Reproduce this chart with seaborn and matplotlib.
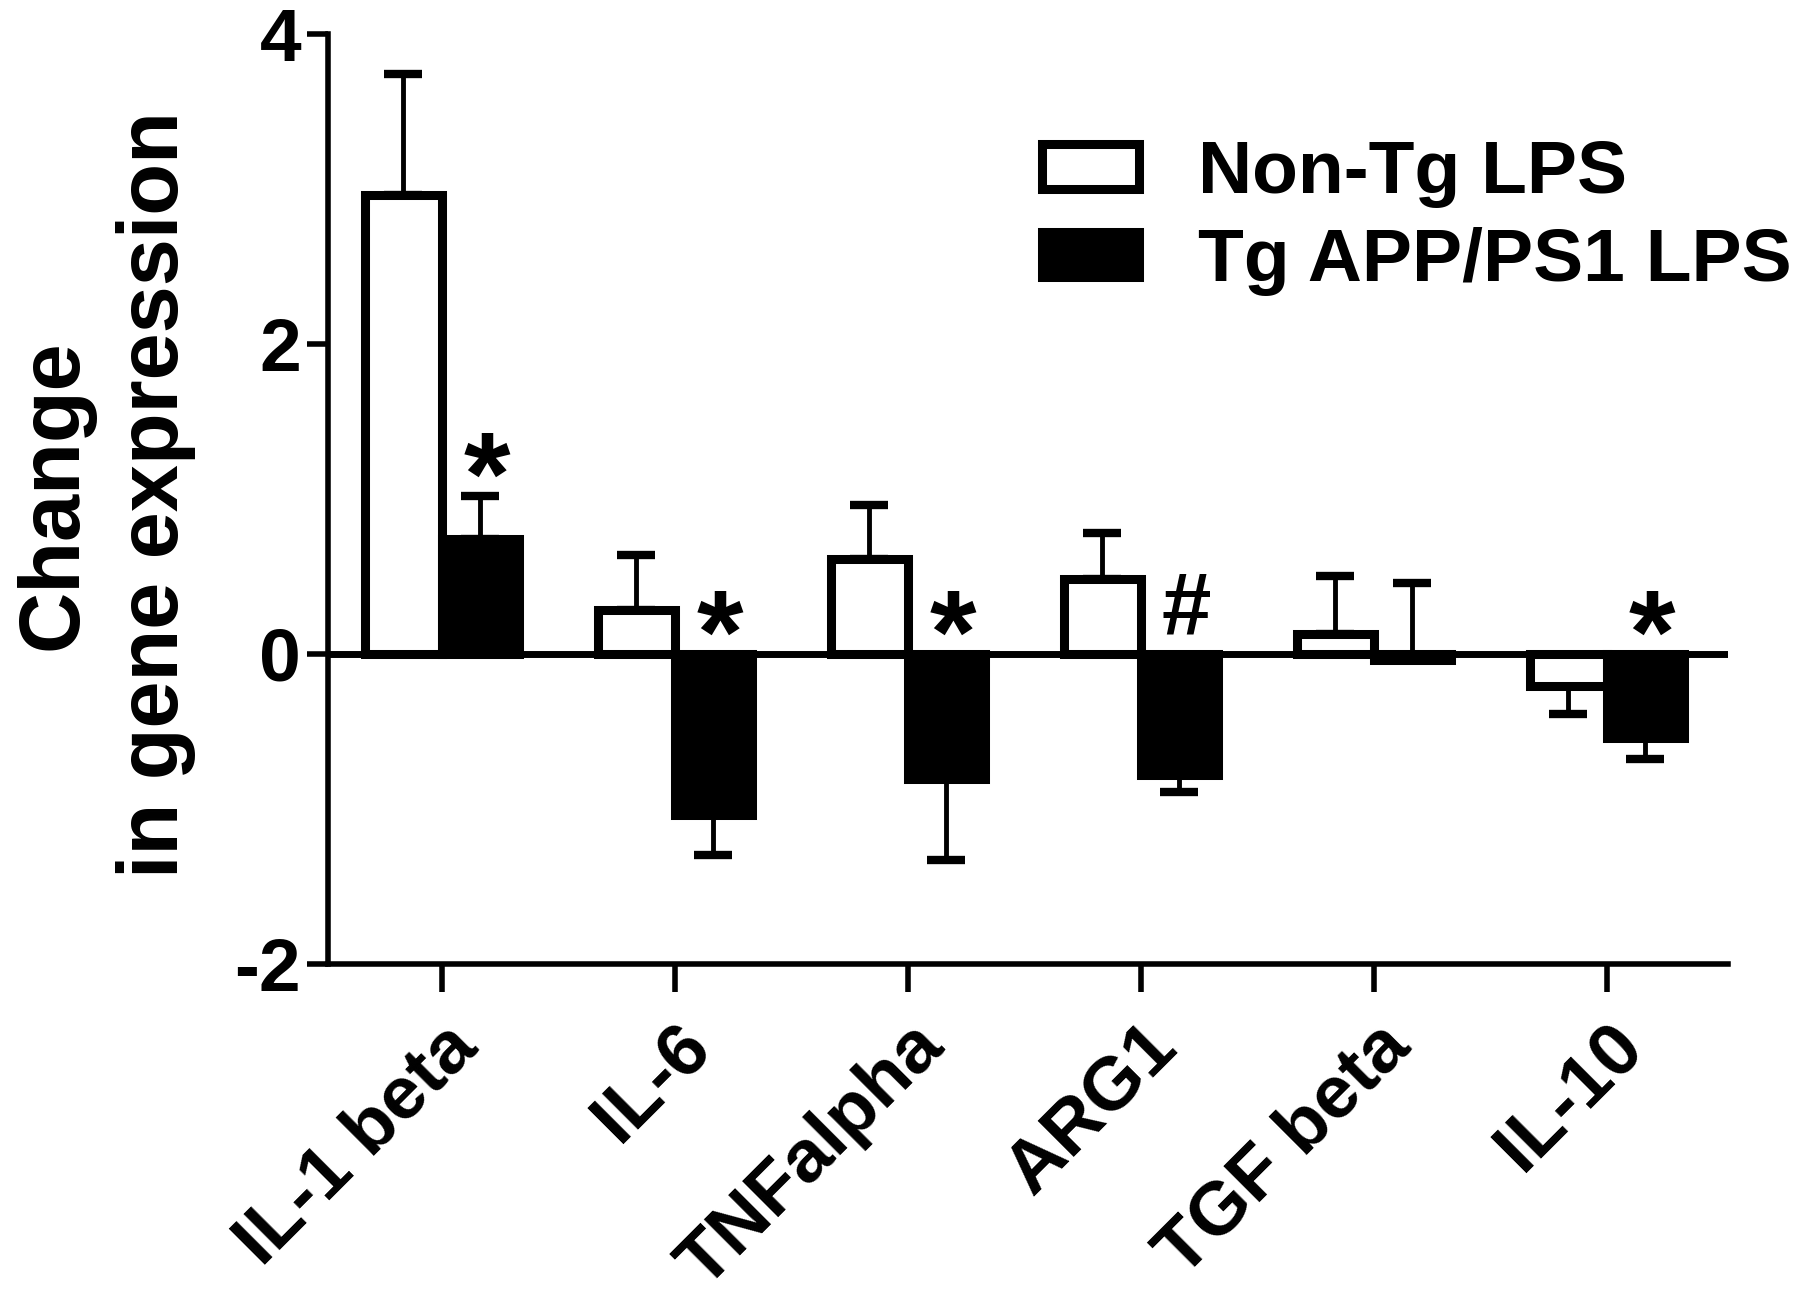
import matplotlib
matplotlib.use("Agg")
import matplotlib.pyplot as plt
import seaborn as sns
import pandas as pd


genes = ['IL-1 beta', 'IL-6', 'TNFalpha', 'ARG1', 'TGF beta', 'IL-10']
groups = ['Non-Tg LPS', 'Tg APP/PS1 LPS']

# bar heights
nontg_mean = [2.96, 0.28, 0.61, 0.48, 0.13, -0.21]
tg_mean = [0.74, -1.04, -0.81, -0.78, -0.04, -0.54]

# where each (one sided) error bar ends
nontg_err_end = [3.74, 0.64, 0.96, 0.78, 0.50, -0.39]
tg_err_end = [1.02, -1.30, -1.33, -0.89, 0.46, -0.68]

# significance marks over the Tg bars
marks = ['*', '*', '*', '#', '', '*']

sns.set_theme(style='white')
plt.rcParams['font.family'] = ['Liberation Sans', 'DejaVu Sans']
plt.rcParams['font.weight'] = 'bold'
plt.rcParams['text.color'] = 'black'
plt.rcParams['axes.labelcolor'] = 'black'
plt.rcParams['xtick.color'] = 'black'
plt.rcParams['ytick.color'] = 'black'

df = pd.DataFrame({
    'gene': genes * 2,
    'group': [groups[0]] * len(genes) + [groups[1]] * len(genes),
    'value': nontg_mean + tg_mean,
})

fig = plt.figure(figsize=(18, 13.06), dpi=100)
ax = fig.add_axes([0.182, 0.262, 0.778, 0.712])

sns.barplot(data=df, x='gene', y='value', hue='group', hue_order=groups,
            order=genes, palette={groups[0]: 'white', groups[1]: 'black'},
            edgecolor='black', linewidth=6.5, width=0.66, errorbar=None,
            ax=ax, zorder=3)

# one sided error bars, pointing away from the bar end
for container, means, ends in zip(ax.containers, [nontg_mean, tg_mean], [nontg_err_end, tg_err_end]):
    for bar, m, e in zip(container, means, ends):
        x = bar.get_x() + bar.get_width() / 2
        if e >= m:
            yerr = [[0], [e - m]]
        else:
            yerr = [[m - e], [0]]
        ax.errorbar(x, m, yerr=yerr, fmt='none', ecolor='black',
                    elinewidth=3.5, capsize=14, capthick=6, zorder=2)

# significance marks, glyph centre put at the target height
tg_bars = ax.containers[1]
for bar, mk, m, e in zip(tg_bars, marks, tg_mean, tg_err_end):
    if not mk:
        continue
    x = bar.get_x() + bar.get_width() / 2 + 0.03
    y = max(0, m, e) + 0.31
    if mk == '*':
        size, lift = 86, 0.56
    else:
        size, lift = 64, 0.36
        y += 0.02
    ax.annotate(mk, (x, y), xytext=(0, -lift * size), textcoords='offset points',
                ha='center', va='baseline', fontsize=size, fontweight='bold',
                color='black')

ax.axhline(0, color='black', linewidth=5, zorder=4)

ax.set_ylim(-2, 4)
ax.set_xlim(-0.49, 5.52)
ax.set_yticks([-2, 0, 2, 4])
ax.set_yticklabels(['-2', '0', '2', '4'])

for side in ['top', 'right']:
    ax.spines[side].set_visible(False)
for side in ['left', 'bottom']:
    ax.spines[side].set_linewidth(4)
    ax.spines[side].set_color('black')

ax.tick_params(axis='both', direction='out', width=4,
               labelsize=54, color='black')
ax.tick_params(axis='y', left=True, length=15, pad=4)
ax.tick_params(axis='x', bottom=True, length=20, pad=14)

for lbl in ax.get_xticklabels():
    lbl.set_rotation(45)
    lbl.set_ha('right')
    lbl.set_rotation_mode('anchor')
    lbl.set_fontweight('bold')
for lbl in ax.get_yticklabels():
    lbl.set_fontweight('bold')

ax.set_xlabel('')
ax.set_ylabel('Change\nin gene expression', fontsize=61, fontweight='bold',
              linespacing=1.35)
ax.yaxis.set_label_coords(-0.094, 0.505)

handles, labels = ax.get_legend_handles_labels()
ax.legend(handles, labels, frameon=False, loc='upper left',
          bbox_to_anchor=(0.558, 0.922), bbox_transform=fig.transFigure,
          handlelength=1.3, handleheight=0.55,
          handletextpad=0.78, labelspacing=0.25, borderpad=0,
          prop={'weight': 'bold', 'size': 54})

fig.savefig('out.png', dpi=100)
